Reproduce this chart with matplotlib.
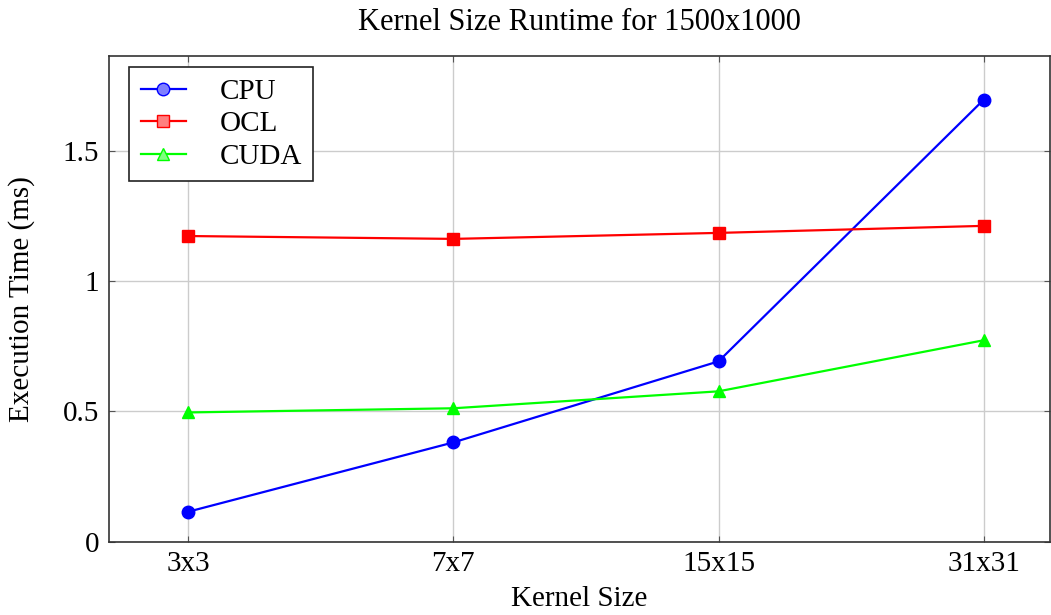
import numpy as np
import matplotlib
matplotlib.use("Agg")
import matplotlib.pyplot as plt
from matplotlib.lines import Line2D

kernels = ["3x3", "7x7", "15x15", "31x31"]
cpu = [0.115, 0.381, 0.692, 1.696]
ocl = [1.173, 1.162, 1.185, 1.212]
cuda = [0.496, 0.512, 0.577, 0.773]

plt.rcParams['font.family'] = ['Liberation Serif', 'DejaVu Serif']

fig = plt.figure(figsize=(10.51, 6.15), dpi=100)
ax = fig.add_axes([0.1034, 0.1192, 0.8956, 0.7898])

x = np.arange(len(kernels))
ax.plot(x, cpu, color='#0000ff', marker='o', markersize=9, linewidth=1.6, zorder=3)
ax.plot(x, ocl, color='#ff0000', marker='s', markersize=9, linewidth=1.6, zorder=3)
ax.plot(x, cuda, color='#00ff00', marker='^', markersize=9, linewidth=1.6, zorder=3)

ax.set_xlim(-0.3, 3.25)
ax.set_ylim(0, 1.864)
ax.set_xticks(x)
ax.set_xticklabels(kernels)
ax.set_yticks([0, 0.5, 1, 1.5])
ax.set_yticklabels(["0", "0.5", "1", "1.5"])
ax.tick_params(direction='in', length=4, labelsize=21, color='#555555', top=True, right=True)
ax.tick_params(axis='x', pad=7)
ax.tick_params(axis='y', pad=7)
ax.grid(True, color='#cccccc', linewidth=1)
ax.set_axisbelow(True)
for s in ax.spines.values():
    s.set_color('#333333')
    s.set_linewidth(1.2)

ax.set_xlabel("Kernel Size", fontsize=21, labelpad=6)
ax.set_ylabel("Execution Time (ms)", fontsize=21, labelpad=20)
ax.set_title("Kernel Size Runtime for 1500x1000", fontsize=22, pad=19)

handles = [
    Line2D([], [], color='#0000ff', marker='o', markersize=9, markerfacecolor='#7f7fff', lw=1.6),
    Line2D([], [], color='#ff0000', marker='s', markersize=9, markerfacecolor='#ff7f7f', lw=1.6),
    Line2D([], [], color='#00ff00', marker='^', markersize=9, markerfacecolor='#7fff7f', lw=1.6),
]
leg = ax.legend(handles, ["CPU", "OCL", "CUDA"], loc='upper left', bbox_to_anchor=(0.0216, 0.977),
                borderaxespad=0, fontsize=21, fancybox=False, edgecolor='#222222', framealpha=1,
                handlelength=1.55, handletextpad=1.15, borderpad=0.4, labelspacing=0.2)
leg.get_frame().set_linewidth(1.2)

fig.savefig("out.png", dpi=100)
